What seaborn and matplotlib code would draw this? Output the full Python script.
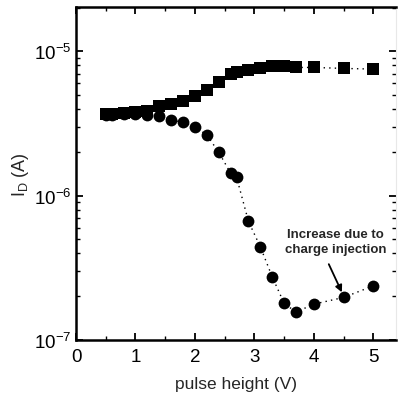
import numpy as np
import pandas as pd
import matplotlib
matplotlib.use("Agg")
import matplotlib.pyplot as plt
import matplotlib.ticker as mticker
import seaborn as sns

# pulse height (V)
pulse_height = [0.5, 0.6, 0.8, 1.0, 1.2, 1.4, 1.6, 1.8, 2.0, 2.2, 2.4,
                2.6, 2.7, 2.9, 3.1, 3.3, 3.5, 3.7, 4.0, 4.5, 5.0]
# drain current (A), square series
id_squares = [3.67e-6, 3.70e-6, 3.73e-6, 3.79e-6, 3.85e-6, 4.18e-6, 4.31e-6,
              4.52e-6, 4.90e-6, 5.42e-6, 6.16e-6, 6.96e-6, 7.22e-6, 7.45e-6,
              7.62e-6, 7.87e-6, 7.87e-6, 7.74e-6, 7.74e-6, 7.62e-6, 7.54e-6]
# drain current (A), circle series
id_circles = [3.61e-6, 3.64e-6, 3.67e-6, 3.67e-6, 3.61e-6, 3.56e-6, 3.36e-6,
              3.22e-6, 3.00e-6, 2.63e-6, 2.00e-6, 1.43e-6, 1.34e-6, 6.62e-7,
              4.41e-7, 2.73e-7, 1.79e-7, 1.56e-7, 1.77e-7, 1.97e-7, 2.37e-7]

x_ticks = [0, 1, 2, 3, 4, 5]
annotation = "Increase due to\ncharge injection"

df = pd.DataFrame({
    "V": pulse_height * 2,
    "I": id_squares + id_circles,
    "series": ["squares"] * len(pulse_height) + ["circles"] * len(pulse_height),
})

sns.set_theme(style="ticks")
plt.rcParams["font.family"] = ["Liberation Sans", "DejaVu Sans"]

fig = plt.figure(figsize=(4.0, 4.02), dpi=100)
ax = fig.add_axes([0.19, 0.152, 0.80, 0.828])

sns.lineplot(data=df, x="V", y="I", hue="series", style="series",
             palette={"squares": "black", "circles": "black"},
             markers={"squares": "s", "circles": "o"},
             dashes={"squares": (1, 3), "circles": (1, 3)},
             markersize=8.5, markeredgewidth=0, linewidth=1.0,
             legend=False, ax=ax, sort=False)

ax.set_yscale("log")
ax.set_xlim(0, 5.38)
ax.set_ylim(1e-7, 2.03e-5)

ax.set_xticks(x_ticks)
ax.xaxis.set_minor_locator(mticker.MultipleLocator(0.5))
ax.yaxis.set_major_locator(mticker.LogLocator(base=10, numticks=10))
ax.yaxis.set_minor_locator(mticker.LogLocator(base=10, subs=np.arange(2, 10), numticks=10))
ax.yaxis.set_major_formatter(mticker.LogFormatterMathtext())

ax.tick_params(axis="both", which="both", direction="in", top=True, right=True,
               colors="black", labelsize=13.5)
ax.tick_params(which="major", length=5, width=1.3)
ax.tick_params(which="minor", length=3, width=1.0)
ax.tick_params(axis="x", pad=6)

for side in ["left", "bottom", "top"]:
    ax.spines[side].set_linewidth(1.8)
    ax.spines[side].set_color("black")
ax.spines["right"].set_color("#e8e8e8")
ax.spines["right"].set_linewidth(0.8)

ax.set_xlabel("pulse height (V)", fontsize=12.5, labelpad=8)
ax.set_ylabel("I$_\\mathregular{D}$ (A)", fontsize=13, labelpad=2)

# label and arrow pointing at the rising circle branch
ax.text(4.36, 10 ** -6.32, annotation, ha="center", va="center",
        fontsize=9.5, fontweight="bold", linespacing=1.35)
ax.annotate("", xy=(4.47, 10 ** -6.67), xytext=(4.25, 10 ** -6.475),
            arrowprops=dict(arrowstyle="-|>", color="black", lw=1.3,
                            shrinkA=0, shrinkB=0, mutation_scale=10))

fig.savefig("out.png", dpi=100)
